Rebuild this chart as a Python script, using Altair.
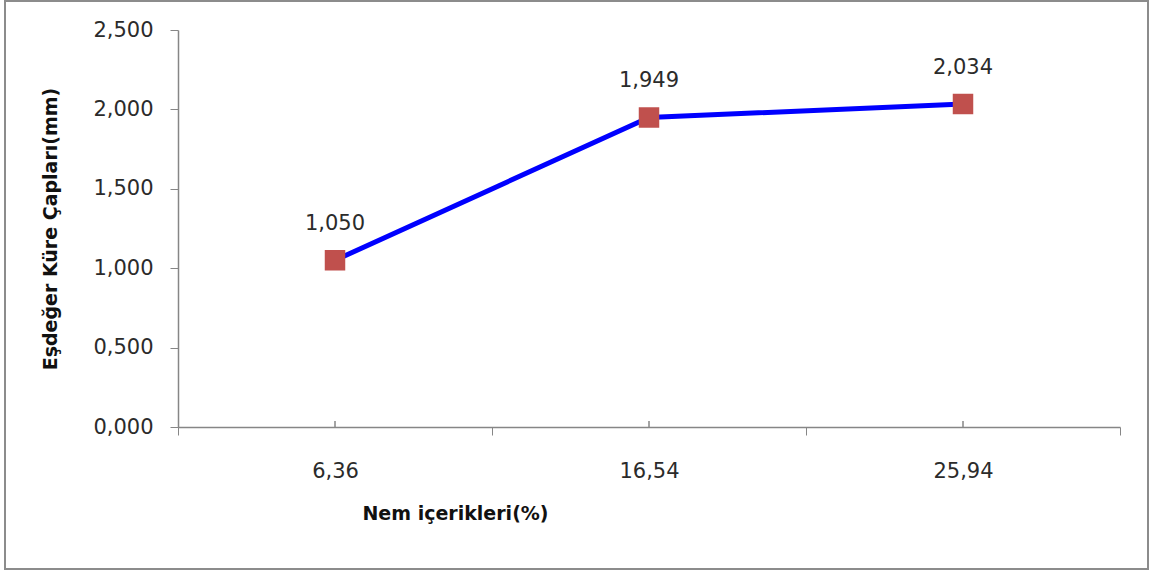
import json
import altair as alt
import pandas as pd

# Moisture content categories and equivalent sphere diameters (mm)
moisture = ["6,36", "16,54", "25,94"]
diameter = [1.050, 1.949, 2.034]
y_ticks = [0.0, 0.5, 1.0, 1.5, 2.0, 2.5]

df = pd.DataFrame({"nem": moisture, "cap": diameter})

W, H = 942, 397
FONT = "DejaVu Sans"
AXIS_GRAY = "#868686"
TEXT = "#2b2b2b"

base = alt.Chart(df).transform_window(i="row_number()").transform_calculate(
    pos="datum.i - 0.5",
    txt="replace(format(datum.cap, '.3f'), '.', ',')",
)

x_label_expr = (
    "datum.value % 1 == 0.5 ? " + json.dumps(moisture) + "[floor(datum.value)] : ''"
)

x_enc = alt.X(
    "pos:Q",
    scale=alt.Scale(domain=[0, 3], nice=False, zero=False),
    axis=alt.Axis(
        values=[0, 0.5, 1, 1.5, 2, 2.5, 3],
        labelExpr=x_label_expr,
        tickOpacity={"expr": "datum.value % 1 == 0 ? 1 : 0"},
        tickSize=8,
        tickColor=AXIS_GRAY,
        domainColor=AXIS_GRAY,
        domainWidth=1.5,
        grid=False,
        labelFont=FONT,
        labelFontSize=21,
        labelColor=TEXT,
        labelPadding=25,
        title="Nem içerikleri(%)",
        titleFont=FONT,
        titleFontSize=19,
        titleFontWeight="bold",
        titleColor="#111111",
        titleX=277,
        titleY=86,
        titleAlign="center",
        titleBaseline="middle",
    ),
)

y_enc = alt.Y(
    "cap:Q",
    scale=alt.Scale(domain=[0, 2.5], nice=False),
    axis=alt.Axis(
        values=y_ticks,
        labelExpr="replace(format(datum.value, '.3f'), '.', ',')",
        grid=False,
        tickSize=8,
        tickColor=AXIS_GRAY,
        domainColor=AXIS_GRAY,
        domainWidth=1.5,
        labelFont=FONT,
        labelFontSize=21,
        labelColor=TEXT,
        labelPadding=17,
        title="Eşdeğer Küre Çapları(mm)",
        titleFont=FONT,
        titleFontSize=19,
        titleFontWeight="bold",
        titleColor="#111111",
        titleX=-128,
        titleY=H / 2,
        titleAngle=270,
        titleAlign="center",
        titleBaseline="middle",
    ),
)

line = base.mark_line(color="#0000FF", strokeWidth=5).encode(x=x_enc, y=y_enc)

points = base.mark_square(size=420, color="#C0504D", opacity=1).encode(
    x="pos:Q", y="cap:Q"
)

labels = base.mark_text(
    dy=-36, font=FONT, fontSize=21, color=TEXT, baseline="middle"
).encode(x="pos:Q", y="cap:Q", text="txt:N")

# small inward ticks at each category centre
inner_ticks = base.mark_rule(color=AXIS_GRAY, strokeWidth=1.5).encode(
    x="pos:Q", y=alt.value(H), y2=alt.value(H - 6)
)

frame = alt.Chart(pd.DataFrame({"a": [0]})).mark_rect(
    filled=False, stroke="#8c8c8c", strokeWidth=2
).encode(
    x=alt.value(-173), x2=alt.value(970), y=alt.value(-29), y2=alt.value(539)
)

chart = (
    alt.layer(frame, line, inner_ticks, points, labels)
    .properties(
        width=W,
        height=H,
        padding={"left": 178, "top": 30, "right": 30, "bottom": 145},
        autosize=alt.AutoSizeParams(type="none"),
        background="white",
    )
    .configure_view(stroke="transparent")
)

chart.save("out.html", embed_options={"renderer": "svg", "actions": False})
